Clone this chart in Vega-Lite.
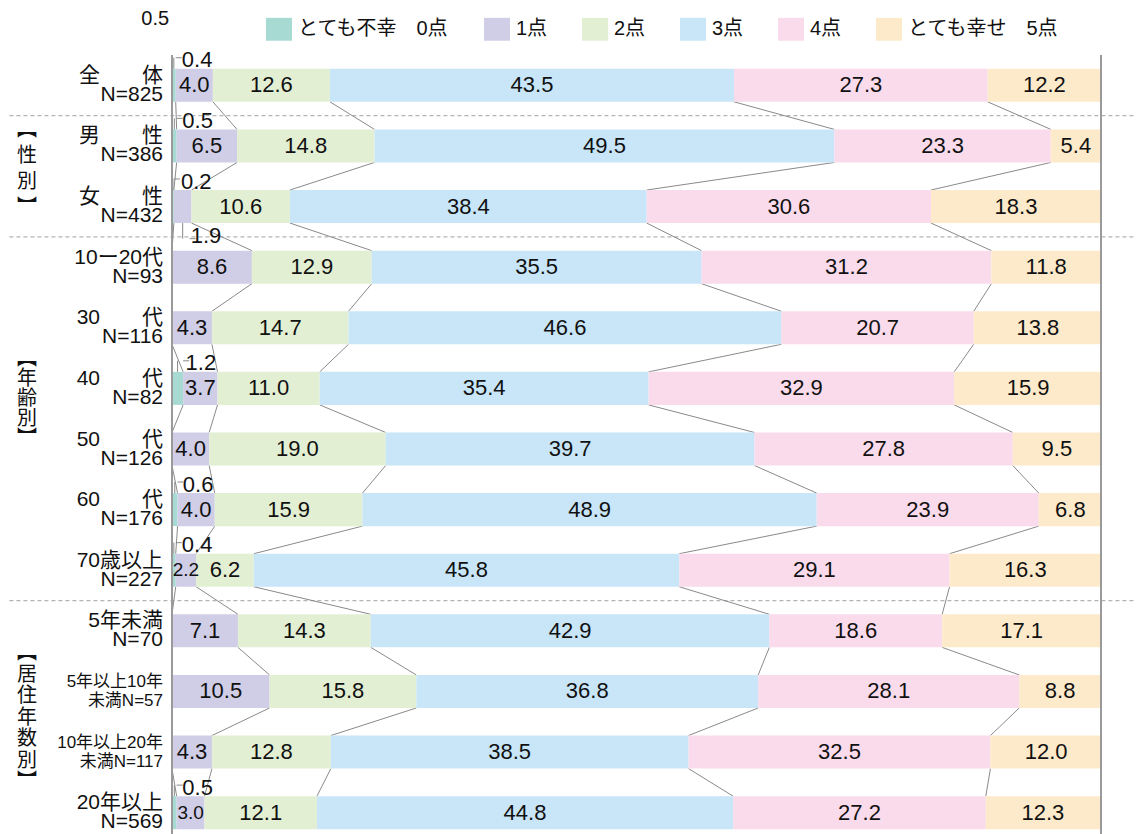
{
"$schema": "https://vega.github.io/schema/vega-lite/v6.json",
"autosize": {"type": "none"},
"padding": {"left": 172, "top": 55, "right": 35, "bottom": 0},
"width": 929,
"height": 779,
"background": "white",
"config": {"view": {"stroke": null}},
"datasets": {
"d": [
{"g":"全　　体\nN=825","k":0,"cat":"とても不幸　0点","v":0.4},
{"g":"全　　体\nN=825","k":1,"cat":"1点","v":4.0},
{"g":"全　　体\nN=825","k":2,"cat":"2点","v":12.6},
{"g":"全　　体\nN=825","k":3,"cat":"3点","v":43.5},
{"g":"全　　体\nN=825","k":4,"cat":"4点","v":27.3},
{"g":"全　　体\nN=825","k":5,"cat":"とても幸せ　5点","v":12.2},
{"g":"男　　性\nN=386","k":0,"cat":"とても不幸　0点","v":0.5},
{"g":"男　　性\nN=386","k":1,"cat":"1点","v":6.5},
{"g":"男　　性\nN=386","k":2,"cat":"2点","v":14.8},
{"g":"男　　性\nN=386","k":3,"cat":"3点","v":49.5},
{"g":"男　　性\nN=386","k":4,"cat":"4点","v":23.3},
{"g":"男　　性\nN=386","k":5,"cat":"とても幸せ　5点","v":5.4},
{"g":"女　　性\nN=432","k":0,"cat":"とても不幸　0点","v":0.2},
{"g":"女　　性\nN=432","k":1,"cat":"1点","v":1.9},
{"g":"女　　性\nN=432","k":2,"cat":"2点","v":10.6},
{"g":"女　　性\nN=432","k":3,"cat":"3点","v":38.4},
{"g":"女　　性\nN=432","k":4,"cat":"4点","v":30.6},
{"g":"女　　性\nN=432","k":5,"cat":"とても幸せ　5点","v":18.3},
{"g":"10ー20代\nN=93","k":0,"cat":"とても不幸　0点","v":0},
{"g":"10ー20代\nN=93","k":1,"cat":"1点","v":8.6},
{"g":"10ー20代\nN=93","k":2,"cat":"2点","v":12.9},
{"g":"10ー20代\nN=93","k":3,"cat":"3点","v":35.5},
{"g":"10ー20代\nN=93","k":4,"cat":"4点","v":31.2},
{"g":"10ー20代\nN=93","k":5,"cat":"とても幸せ　5点","v":11.8},
{"g":"30　　代\nN=116","k":0,"cat":"とても不幸　0点","v":0},
{"g":"30　　代\nN=116","k":1,"cat":"1点","v":4.3},
{"g":"30　　代\nN=116","k":2,"cat":"2点","v":14.7},
{"g":"30　　代\nN=116","k":3,"cat":"3点","v":46.6},
{"g":"30　　代\nN=116","k":4,"cat":"4点","v":20.7},
{"g":"30　　代\nN=116","k":5,"cat":"とても幸せ　5点","v":13.8},
{"g":"40　　代\nN=82","k":0,"cat":"とても不幸　0点","v":1.2},
{"g":"40　　代\nN=82","k":1,"cat":"1点","v":3.7},
{"g":"40　　代\nN=82","k":2,"cat":"2点","v":11.0},
{"g":"40　　代\nN=82","k":3,"cat":"3点","v":35.4},
{"g":"40　　代\nN=82","k":4,"cat":"4点","v":32.9},
{"g":"40　　代\nN=82","k":5,"cat":"とても幸せ　5点","v":15.9},
{"g":"50　　代\nN=126","k":0,"cat":"とても不幸　0点","v":0},
{"g":"50　　代\nN=126","k":1,"cat":"1点","v":4.0},
{"g":"50　　代\nN=126","k":2,"cat":"2点","v":19.0},
{"g":"50　　代\nN=126","k":3,"cat":"3点","v":39.7},
{"g":"50　　代\nN=126","k":4,"cat":"4点","v":27.8},
{"g":"50　　代\nN=126","k":5,"cat":"とても幸せ　5点","v":9.5},
{"g":"60　　代\nN=176","k":0,"cat":"とても不幸　0点","v":0.6},
{"g":"60　　代\nN=176","k":1,"cat":"1点","v":4.0},
{"g":"60　　代\nN=176","k":2,"cat":"2点","v":15.9},
{"g":"60　　代\nN=176","k":3,"cat":"3点","v":48.9},
{"g":"60　　代\nN=176","k":4,"cat":"4点","v":23.9},
{"g":"60　　代\nN=176","k":5,"cat":"とても幸せ　5点","v":6.8},
{"g":"70歳以上\nN=227","k":0,"cat":"とても不幸　0点","v":0.4},
{"g":"70歳以上\nN=227","k":1,"cat":"1点","v":2.2},
{"g":"70歳以上\nN=227","k":2,"cat":"2点","v":6.2},
{"g":"70歳以上\nN=227","k":3,"cat":"3点","v":45.8},
{"g":"70歳以上\nN=227","k":4,"cat":"4点","v":29.1},
{"g":"70歳以上\nN=227","k":5,"cat":"とても幸せ　5点","v":16.3},
{"g":"5年未満\nN=70","k":0,"cat":"とても不幸　0点","v":0},
{"g":"5年未満\nN=70","k":1,"cat":"1点","v":7.1},
{"g":"5年未満\nN=70","k":2,"cat":"2点","v":14.3},
{"g":"5年未満\nN=70","k":3,"cat":"3点","v":42.9},
{"g":"5年未満\nN=70","k":4,"cat":"4点","v":18.6},
{"g":"5年未満\nN=70","k":5,"cat":"とても幸せ　5点","v":17.1},
{"g":"5年以上10年\n未満N=57","k":0,"cat":"とても不幸　0点","v":0},
{"g":"5年以上10年\n未満N=57","k":1,"cat":"1点","v":10.5},
{"g":"5年以上10年\n未満N=57","k":2,"cat":"2点","v":15.8},
{"g":"5年以上10年\n未満N=57","k":3,"cat":"3点","v":36.8},
{"g":"5年以上10年\n未満N=57","k":4,"cat":"4点","v":28.1},
{"g":"5年以上10年\n未満N=57","k":5,"cat":"とても幸せ　5点","v":8.8},
{"g":"10年以上20年\n未満N=117","k":0,"cat":"とても不幸　0点","v":0},
{"g":"10年以上20年\n未満N=117","k":1,"cat":"1点","v":4.3},
{"g":"10年以上20年\n未満N=117","k":2,"cat":"2点","v":12.8},
{"g":"10年以上20年\n未満N=117","k":3,"cat":"3点","v":38.5},
{"g":"10年以上20年\n未満N=117","k":4,"cat":"4点","v":32.5},
{"g":"10年以上20年\n未満N=117","k":5,"cat":"とても幸せ　5点","v":12.0},
{"g":"20年以上\nN=569","k":0,"cat":"とても不幸　0点","v":0.5},
{"g":"20年以上\nN=569","k":1,"cat":"1点","v":3.0},
{"g":"20年以上\nN=569","k":2,"cat":"2点","v":12.1},
{"g":"20年以上\nN=569","k":3,"cat":"3点","v":44.8},
{"g":"20年以上\nN=569","k":4,"cat":"4点","v":27.2},
{"g":"20年以上\nN=569","k":5,"cat":"とても幸せ　5点","v":12.3}
]
},
"data": {"name": "d"},
"layer": [
{
"data": {"values": [{"g":"男　　性\nN=386"},{"g":"10ー20代\nN=93"},{"g":"5年未満\nN=70"}]},
"mark": {"type": "rule", "color": "#b4b4b4", "strokeWidth": 1.3, "strokeDash": [4, 3]},
"encoding": {
"y": {"field": "g", "type": "nominal", "bandPosition": 0, "axis": null},
"x": {"datum": -17.5, "axis": null},
"x2": {"datum": 103.8}
}
},
{
"transform": [
{"stack": "v", "groupby": ["g"], "sort": [{"field": "k", "order": "ascending"}], "as": ["s0", "s1"]},
{"filter": "datum.k < 5"},
{"window": [{"op": "lead", "field": "s1", "as": "n1"}, {"op": "lead", "field": "g", "as": "ng"}], "groupby": ["k"]},
{"filter": "isValid(datum.ng)"}
],
"mark": {"type": "rule", "color": "#8a8a8a", "strokeWidth": 1},
"encoding": {
"x": {"field": "s1", "type": "quantitative", "axis": null},
"x2": {"field": "n1"},
"y": {"field": "g", "type": "nominal", "bandPosition": 0.7725, "axis": null},
"y2": {"field": "ng", "bandPosition": 0.2275}
}
},
{
"mark": {"type": "bar", "height": {"band": 0.545}},
"encoding": {
"y": {"field": "g", "type": "nominal",
"scale": {"domain": ["全　　体\nN=825","男　　性\nN=386","女　　性\nN=432","10ー20代\nN=93","30　　代\nN=116","40　　代\nN=82","50　　代\nN=126","60　　代\nN=176","70歳以上\nN=227","5年未満\nN=70","5年以上10年\n未満N=57","10年以上20年\n未満N=117","20年以上\nN=569"], "range": [0, 788], "paddingInner": 0, "paddingOuter": 0},
"axis": null},
"x": {"field": "v", "type": "quantitative", "stack": "zero", "scale": {"domain": [0, 100], "nice": false, "zero": false}, "axis": null},
"color": {"field": "cat", "type": "nominal",
"scale": {"domain": ["とても不幸　0点","1点","2点","3点","4点","とても幸せ　5点"], "range": ["#a8dad4","#d0cde7","#e2efd3","#c8e6f8","#f9dbeb","#fdeacb"]},
"legend": {"orient": "none", "legendX": 94, "legendY": -39, "direction": "horizontal", "title": null, "symbolType": "M-1,-0.88H1V0.88H-1Z", "symbolSize": 676, "symbolStrokeWidth": 0, "symbolOpacity": 1, "labelFont": "Liberation Sans, Noto Sans CJK JP", "labelFontSize": 20, "labelColor": "#111", "labelOffset": 6, "columnPadding": 34, "padding": 0, "labelLimit": 300}},
"order": {"field": "k", "type": "quantitative"}
}
},
{
"mark": {"type": "text", "font": "Liberation Sans", "fontSize": 22, "color": "#111"},
"encoding": {
"y": {"field": "g", "type": "nominal", "axis": null},
"x": {"field": "v", "type": "quantitative", "stack": "zero", "bandPosition": 0.5, "axis": null},
"detail": {"field": "k", "type": "quantitative"},
"order": {"field": "k", "type": "quantitative"},
"text": {"field": "v", "type": "quantitative", "format": ".1f"},
"opacity": {"condition": {"test": "datum.k == 0 || (datum.k == 1 && datum.v < 3.1)", "value": 0}, "value": 1}
}
},
{
"mark": {"type": "text", "font": "Liberation Sans Narrow, Liberation Sans", "fontSize": 19, "color": "#111"},
"encoding": {
"y": {"field": "g", "type": "nominal", "axis": null},
"x": {"field": "v", "type": "quantitative", "stack": "zero", "bandPosition": 0.5, "axis": null},
"detail": {"field": "k", "type": "quantitative"},
"order": {"field": "k", "type": "quantitative"},
"text": {"field": "v", "type": "quantitative", "format": ".1f"},
"opacity": {"condition": {"test": "datum.k == 1 && datum.v >= 2 && datum.v < 3.1", "value": 1}, "value": 0}
}
},
{
"transform": [{"filter": "datum.k == 0 && datum.v > 0"}],
"mark": {"type": "text", "font": "Liberation Sans", "fontSize": 22, "color": "#111", "align": "left", "dx": 8},
"encoding": {
"y": {"field": "g", "type": "nominal", "bandPosition": 0.087, "axis": null},
"x": {"field": "v", "type": "quantitative", "stack": "zero", "bandPosition": 0.5, "axis": null},
"detail": {"field": "k", "type": "quantitative"},
"text": {"field": "v", "type": "quantitative", "format": ".1f"}
}
},
{
"transform": [{"filter": "datum.k == 0 && datum.v > 0"}],
"mark": {"type": "rule", "color": "#888", "strokeWidth": 1},
"encoding": {
"y": {"field": "g", "type": "nominal", "bandPosition": 0.045, "axis": null},
"y2": {"field": "g", "bandPosition": 0.2275},
"x": {"field": "v", "type": "quantitative", "stack": "zero", "bandPosition": 0.5, "axis": null},
"detail": {"field": "k", "type": "quantitative"}
}
},
{
"transform": [{"filter": "datum.k == 0 && datum.v > 0"}],
"mark": {"type": "tick", "orient": "horizontal", "size": 6, "thickness": 1, "color": "#888", "opacity": 1, "xOffset": 3},
"encoding": {
"y": {"field": "g", "type": "nominal", "bandPosition": 0.045, "axis": null},
"x": {"field": "v", "type": "quantitative", "stack": "zero", "bandPosition": 0.5, "axis": null},
"detail": {"field": "k", "type": "quantitative"}
}
},
{
"transform": [{"filter": "datum.k <= 1"}],
"mark": {"type": "text", "font": "Liberation Sans", "fontSize": 22, "color": "#111", "align": "left", "dx": 8},
"encoding": {
"y": {"field": "g", "type": "nominal", "bandPosition": 0.99, "axis": null},
"x": {"field": "v", "type": "quantitative", "stack": "zero", "bandPosition": 0.5, "axis": null},
"detail": {"field": "k", "type": "quantitative"},
"order": {"field": "k", "type": "quantitative"},
"text": {"field": "v", "type": "quantitative", "format": ".1f"},
"opacity": {"condition": {"test": "datum.k == 1 && datum.v < 2", "value": 1}, "value": 0}
}
},
{
"transform": [{"filter": "datum.k <= 1"}],
"mark": {"type": "rule", "color": "#888", "strokeWidth": 1},
"encoding": {
"y": {"field": "g", "type": "nominal", "bandPosition": 0.7725, "axis": null},
"y2": {"field": "g", "bandPosition": 1.03},
"x": {"field": "v", "type": "quantitative", "stack": "zero", "bandPosition": 0.5, "axis": null},
"detail": {"field": "k", "type": "quantitative"},
"order": {"field": "k", "type": "quantitative"},
"opacity": {"condition": {"test": "datum.k == 1 && datum.v < 2", "value": 1}, "value": 0}
}
},
{
"transform": [{"filter": "datum.k <= 1"}],
"mark": {"type": "tick", "orient": "horizontal", "size": 6, "thickness": 1, "color": "#888", "xOffset": 3},
"encoding": {
"y": {"field": "g", "type": "nominal", "bandPosition": 1.03, "axis": null},
"x": {"field": "v", "type": "quantitative", "stack": "zero", "bandPosition": 0.5, "axis": null},
"detail": {"field": "k", "type": "quantitative"},
"order": {"field": "k", "type": "quantitative"},
"opacity": {"condition": {"test": "datum.k == 1 && datum.v < 2", "value": 1}, "value": 0}
}
},
{
"transform": [{"filter": "datum.k == 0"}],
"mark": {"type": "text", "font": "Liberation Sans, Noto Sans CJK JP", "align": "right", "baseline": "middle", "dx": -9, "dy": -9.5, "lineBreak": "\n", "lineHeight": 19, "color": "#111"},
"encoding": {
"y": {"field": "g", "type": "nominal", "axis": null},
"x": {"datum": 0, "axis": null},
"text": {"field": "g"},
"size": {"condition": {"test": "indexof(datum.g, '以上10年') >= 0 || indexof(datum.g, '以上20年') >= 0", "value": 17}, "value": 21}
}
},
{
"data": {"values": [{"g": "全　　体\nN=825", "t": "0.5"}]},
"mark": {"type": "text", "font": "Liberation Sans", "fontSize": 20, "color": "#111"},
"encoding": {"y": {"field": "g", "type": "nominal", "bandPosition": -0.6, "axis": null}, "x": {"datum": -1.8, "axis": null}, "text": {"field": "t"}}
},
{
"data": {"values": [{"a": 0}, {"a": 100}]},
"mark": {"type": "rule", "color": "#9a9a9a", "strokeWidth": 2},
"encoding": {"x": {"field": "a", "type": "quantitative", "axis": null}}
},
{
"data": {"values": [{"g": "男　　性\nN=386", "t": "︻\n性\n別\n︼"}]},
"mark": {"type": "text", "font": "Noto Sans CJK JP", "fontSize": 20, "lineHeight": 26, "lineBreak": "\n", "dy": -39, "color": "#111"},
"encoding": {"y": {"field": "g", "type": "nominal", "bandPosition": 0.886, "axis": null}, "x": {"datum": -15.6, "axis": null}, "text": {"field": "t"}}
},
{
"data": {"values": [{"g": "40　　代\nN=82", "t": "︻\n年\n齢\n別\n︼"}]},
"mark": {"type": "text", "font": "Noto Sans CJK JP", "fontSize": 20, "lineHeight": 20, "lineBreak": "\n", "dy": -40, "color": "#111"},
"encoding": {"y": {"field": "g", "type": "nominal", "bandPosition": 0.68, "axis": null}, "x": {"datum": -15.6, "axis": null}, "text": {"field": "t"}}
},
{
"data": {"values": [{"g": "10年以上20年\n未満N=117", "t": "︻\n居\n住\n年\n数\n別\n︼"}]},
"mark": {"type": "text", "font": "Noto Sans CJK JP", "fontSize": 20, "lineHeight": 21.5, "lineBreak": "\n", "dy": -64.5, "color": "#111"},
"encoding": {"y": {"field": "g", "type": "nominal", "bandPosition": -0.07, "axis": null}, "x": {"datum": -15.6, "axis": null}, "text": {"field": "t"}}
}
]
}
